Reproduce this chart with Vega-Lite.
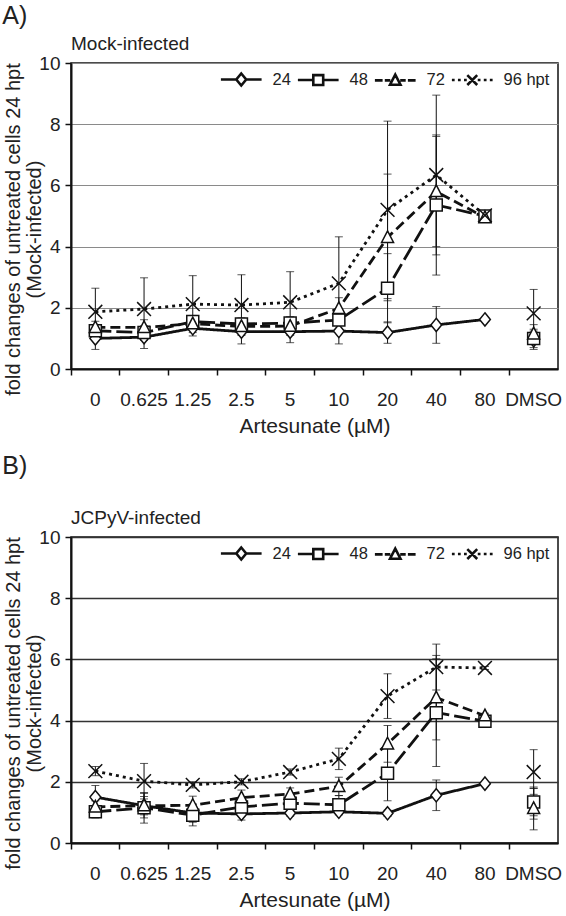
{
  "$schema": "https://vega.github.io/schema/vega-lite/v6.json",
  "padding": {"left": 2, "top": 4, "right": 0, "bottom": 0},
  "config": {
    "font": "Liberation Sans",
    "view": {"stroke": "#111", "strokeWidth": 1.5},
    "axis": {"labelColor": "#222", "titleColor": "#222", "domainColor": "#111", "tickColor": "#111", "titleFontWeight": "normal"},
    "title": {"color": "#222", "fontWeight": "normal"}
  },
  "datasets": {
    "mock": [
      {"dose": "0", "series": "24", "y": 1.00, "lo": 0.64, "hi": 1.36},
      {"dose": "0", "series": "48", "y": 1.25, "lo": 1.05, "hi": 1.45},
      {"dose": "0", "series": "72", "y": 1.36, "lo": 1.16, "hi": 1.56},
      {"dose": "0", "series": "96", "y": 1.87, "lo": 1.10, "hi": 2.64},
      {"dose": "0.625", "series": "24", "y": 1.04, "lo": 0.67, "hi": 1.41},
      {"dose": "0.625", "series": "48", "y": 1.19, "lo": 0.99, "hi": 1.39},
      {"dose": "0.625", "series": "72", "y": 1.36, "lo": 1.11, "hi": 1.61},
      {"dose": "0.625", "series": "96", "y": 1.96, "lo": 0.94, "hi": 2.98},
      {"dose": "1.25", "series": "24", "y": 1.33, "lo": 1.08, "hi": 1.58},
      {"dose": "1.25", "series": "48", "y": 1.55, "lo": 1.35, "hi": 1.75},
      {"dose": "1.25", "series": "72", "y": 1.48, "lo": 1.28, "hi": 1.68},
      {"dose": "1.25", "series": "96", "y": 2.12, "lo": 1.19, "hi": 3.05},
      {"dose": "2.5", "series": "24", "y": 1.22, "lo": 0.82, "hi": 1.62},
      {"dose": "2.5", "series": "48", "y": 1.47, "lo": 1.27, "hi": 1.67},
      {"dose": "2.5", "series": "72", "y": 1.39, "lo": 1.19, "hi": 1.59},
      {"dose": "2.5", "series": "96", "y": 2.09, "lo": 1.10, "hi": 3.08},
      {"dose": "5", "series": "24", "y": 1.22, "lo": 0.86, "hi": 1.58},
      {"dose": "5", "series": "48", "y": 1.50, "lo": 1.30, "hi": 1.70},
      {"dose": "5", "series": "72", "y": 1.40, "lo": 1.10, "hi": 1.70},
      {"dose": "5", "series": "96", "y": 2.18, "lo": 1.18, "hi": 3.18},
      {"dose": "10", "series": "24", "y": 1.24, "lo": 0.82, "hi": 1.66},
      {"dose": "10", "series": "48", "y": 1.60, "lo": 1.30, "hi": 1.90},
      {"dose": "10", "series": "72", "y": 1.98, "lo": 1.63, "hi": 2.33},
      {"dose": "10", "series": "96", "y": 2.80, "lo": 1.28, "hi": 4.32},
      {"dose": "20", "series": "24", "y": 1.19, "lo": 0.84, "hi": 1.54},
      {"dose": "20", "series": "48", "y": 2.64, "lo": 1.51, "hi": 3.77},
      {"dose": "20", "series": "72", "y": 4.30, "lo": 2.23, "hi": 6.37},
      {"dose": "20", "series": "96", "y": 5.20, "lo": 2.30, "hi": 8.10},
      {"dose": "40", "series": "24", "y": 1.44, "lo": 0.84, "hi": 2.04},
      {"dose": "40", "series": "48", "y": 5.36, "lo": 3.07, "hi": 7.65},
      {"dose": "40", "series": "72", "y": 5.80, "lo": 4.00, "hi": 7.60},
      {"dose": "40", "series": "96", "y": 6.34, "lo": 3.73, "hi": 8.95},
      {"dose": "80", "series": "24", "y": 1.62, "lo": 1.57, "hi": 1.67},
      {"dose": "80", "series": "48", "y": 5.00, "lo": 4.88, "hi": 5.12},
      {"dose": "80", "series": "72", "y": 4.95, "lo": 4.85, "hi": 5.05},
      {"dose": "80", "series": "96", "y": 5.02, "lo": 4.92, "hi": 5.12},
      {"dose": "DMSO", "series": "24", "y": 0.94, "lo": 0.64, "hi": 1.24},
      {"dose": "DMSO", "series": "48", "y": 1.00, "lo": 0.70, "hi": 1.30},
      {"dose": "DMSO", "series": "72", "y": 1.15, "lo": 0.85, "hi": 1.45},
      {"dose": "DMSO", "series": "96", "y": 1.82, "lo": 1.04, "hi": 2.60}
    ],
    "jcpyv": [
      {"dose": "0", "series": "24", "y": 1.50, "lo": 1.12, "hi": 1.88},
      {"dose": "0", "series": "48", "y": 1.02, "lo": 0.82, "hi": 1.22},
      {"dose": "0", "series": "72", "y": 1.18, "lo": 0.98, "hi": 1.38},
      {"dose": "0", "series": "96", "y": 2.35, "lo": 2.20, "hi": 2.50},
      {"dose": "0.625", "series": "24", "y": 1.22, "lo": 0.82, "hi": 1.62},
      {"dose": "0.625", "series": "48", "y": 1.15, "lo": 0.65, "hi": 1.65},
      {"dose": "0.625", "series": "72", "y": 1.22, "lo": 0.92, "hi": 1.52},
      {"dose": "0.625", "series": "96", "y": 2.02, "lo": 1.44, "hi": 2.60},
      {"dose": "1.25", "series": "24", "y": 0.98, "lo": 0.68, "hi": 1.28},
      {"dose": "1.25", "series": "48", "y": 0.91, "lo": 0.56, "hi": 1.26},
      {"dose": "1.25", "series": "72", "y": 1.23, "lo": 0.93, "hi": 1.53},
      {"dose": "1.25", "series": "96", "y": 1.90, "lo": 1.80, "hi": 2.00},
      {"dose": "2.5", "series": "24", "y": 0.95, "lo": 0.75, "hi": 1.15},
      {"dose": "2.5", "series": "48", "y": 1.18, "lo": 0.88, "hi": 1.48},
      {"dose": "2.5", "series": "72", "y": 1.48, "lo": 1.23, "hi": 1.73},
      {"dose": "2.5", "series": "96", "y": 2.00, "lo": 1.90, "hi": 2.10},
      {"dose": "5", "series": "24", "y": 0.98, "lo": 0.88, "hi": 1.08},
      {"dose": "5", "series": "48", "y": 1.30, "lo": 1.10, "hi": 1.50},
      {"dose": "5", "series": "72", "y": 1.60, "lo": 1.40, "hi": 1.80},
      {"dose": "5", "series": "96", "y": 2.32, "lo": 2.22, "hi": 2.42},
      {"dose": "10", "series": "24", "y": 1.02, "lo": 0.92, "hi": 1.12},
      {"dose": "10", "series": "48", "y": 1.25, "lo": 0.95, "hi": 1.55},
      {"dose": "10", "series": "72", "y": 1.85, "lo": 1.55, "hi": 2.15},
      {"dose": "10", "series": "96", "y": 2.75, "lo": 2.40, "hi": 3.10},
      {"dose": "20", "series": "24", "y": 0.97, "lo": 0.87, "hi": 1.07},
      {"dose": "20", "series": "48", "y": 2.28, "lo": 1.38, "hi": 3.18},
      {"dose": "20", "series": "72", "y": 3.24, "lo": 2.64, "hi": 3.84},
      {"dose": "20", "series": "96", "y": 4.80, "lo": 4.07, "hi": 5.53},
      {"dose": "40", "series": "24", "y": 1.56, "lo": 1.06, "hi": 2.06},
      {"dose": "40", "series": "48", "y": 4.26, "lo": 2.50, "hi": 6.02},
      {"dose": "40", "series": "72", "y": 4.75, "lo": 3.37, "hi": 6.13},
      {"dose": "40", "series": "96", "y": 5.75, "lo": 5.00, "hi": 6.50},
      {"dose": "80", "series": "24", "y": 1.94, "lo": 1.89, "hi": 1.99},
      {"dose": "80", "series": "48", "y": 3.98, "lo": 3.88, "hi": 4.08},
      {"dose": "80", "series": "72", "y": 4.16, "lo": 4.08, "hi": 4.24},
      {"dose": "80", "series": "96", "y": 5.72, "lo": 5.67, "hi": 5.77},
      {"dose": "DMSO", "series": "24", "y": 1.28, "lo": 0.78, "hi": 1.78},
      {"dose": "DMSO", "series": "48", "y": 1.34, "lo": 0.89, "hi": 1.79},
      {"dose": "DMSO", "series": "72", "y": 1.13, "lo": 0.43, "hi": 1.83},
      {"dose": "DMSO", "series": "96", "y": 2.32, "lo": 1.59, "hi": 3.05}
    ]
  },
  "spacing": 17,
  "vconcat": [
    {
      "title": {"text": "A)", "anchor": "start", "frame": "bounds", "fontSize": 25, "offset": 5},
      "vconcat": [
        {
          "width": 487, "height": 306,
          "title": {"text": "Mock-infected", "anchor": "start", "frame": "group", "fontSize": 19, "offset": 0},
          "data": {"name": "mock"},
          "resolve": {"axis": {"x": "independent"}, "scale": {"shape": "independent"}},
          "layer": [
            {
              "mark": {"type": "rule", "color": "#111", "strokeWidth": 1},
              "encoding": {
                "x": {"field": "dose", "type": "ordinal", "scale": {"type": "band", "domain": ["0","0.625","1.25","2.5","5","10","20","40","80","DMSO"], "paddingInner": 0, "paddingOuter": 0},
                  "axis": {"orient": "bottom", "title": "Artesunate (µM)", "domain": false, "ticks": false, "tickSize": 0, "grid": false, "labelAngle": 0, "labelFontSize": 19, "labelPadding": 21, "titleFontSize": 21, "titlePadding": 6}},
                "y": {"field": "lo", "type": "quantitative", "scale": {"domain": [0, 10], "nice": false},
                  "axis": {"title": ["fold changes of untreated cells 24 hpt", "(Mock-infected)"], "values": [0, 2, 4, 6, 8, 10], "grid": true, "gridColor": "#8a8a8a", "gridWidth": 1.2, "domainWidth": 2, "tickSize": 6, "tickWidth": 1.5, "labelFontSize": 19, "labelPadding": 5, "titleFontSize": 20, "titleLineHeight": 21, "titleX": -48, "titleY": 166}},
                "y2": {"field": "hi"}
              }
            },
            {
              "mark": {"type": "tick", "color": "#111", "size": 8, "thickness": 1},
              "encoding": {
                "x": {"field": "dose", "type": "ordinal", "scale": {"domain": ["0","0.625","1.25","2.5","5","10","20","40","80","DMSO"]}, "axis": null},
                "y": {"field": "lo", "type": "quantitative"}
              }
            },
            {
              "mark": {"type": "tick", "color": "#111", "size": 8, "thickness": 1},
              "encoding": {
                "x": {"field": "dose", "type": "ordinal", "scale": {"domain": ["0","0.625","1.25","2.5","5","10","20","40","80","DMSO"]}, "axis": null},
                "y": {"field": "hi", "type": "quantitative"}
              }
            },
            {
              "transform": [{"filter": "datum.dose != 'DMSO'"}],
              "mark": {"type": "line", "color": "#111", "strokeWidth": 2.8, "strokeCap": "butt"},
              "encoding": {
                "x": {"field": "dose", "type": "ordinal", "sort": ["0","0.625","1.25","2.5","5","10","20","40","80","DMSO"], "scale": {"domain": ["0","0.625","1.25","2.5","5","10","20","40","80","DMSO"]},
                  "axis": {"orient": "bottom", "title": null, "labels": false, "ticks": true, "tickSize": 6, "tickWidth": 1.5, "domain": true, "domainWidth": 2, "grid": false, "bandPosition": 0}},
                "y": {"field": "y", "type": "quantitative"},
                "strokeDash": {"field": "series", "type": "nominal", "scale": {"domain": ["24","48","72","96"], "range": [[1, 0], [16, 5], [10, 5], [3, 4]]}, "legend": null},
                "detail": {"field": "series"}
              }
            },
            {
              "mark": {"type": "point", "filled": true, "fill": "white", "stroke": "#111", "strokeWidth": 1.5, "size": 144, "opacity": 1},
              "encoding": {
                "x": {"field": "dose", "type": "ordinal", "scale": {"domain": ["0","0.625","1.25","2.5","5","10","20","40","80","DMSO"]}, "axis": null},
                "y": {"field": "y", "type": "quantitative"},
                "shape": {"field": "series", "type": "nominal", "scale": {"domain": ["24","48","72","96"], "range": ["M0,-1.1L0.9,0L0,1.1L-0.9,0Z", "M-1,-1H1V1H-1Z", "M0,-1.1L1,0.85H-1Z", "M-1.15,-1.15L1.15,1.15M-1.15,1.15L1.15,-1.15"]}, "legend": null}
              }
            },
            {
              "transform": [{"filter": "datum.y < -100"}],
              "mark": {"type": "point", "filled": false, "color": "#111", "strokeWidth": 2.6, "size": 121, "opacity": 1},
              "encoding": {
                "x": {"field": "dose", "type": "ordinal", "scale": {"domain": ["0","0.625","1.25","2.5","5","10","20","40","80","DMSO"]}, "axis": null},
                "y": {"field": "y", "type": "quantitative"},
                "shape": {"field": "series", "type": "nominal",
                  "scale": {"domain": ["24","48","72","96"], "range": [
                    "M-3.7,0L-0.95,0M0.95,0L3.7,0M0,-1.1L0.9,0L0,1.1L-0.9,0Z",
                    "M-3.7,0L-0.9,0M0.9,0L3.7,0M-0.9,-0.9H0.9V0.9H-0.9Z",
                    "M-3.7,0L-2.3,0M-1.9,0L-0.9,0M0.9,0L1.9,0M2.3,0L3.7,0M0,-1.05L0.95,0.8H-0.95Z",
                    "M-3.7,0L-3.2,0M-2.6,0L-2.1,0M-1.5,0L-1,0M1,0L1.5,0M2.1,0L2.6,0M3.2,0L3.7,0M-0.9,-0.9L0.9,0.9M-0.9,0.9L0.9,-0.9"]},
                  "legend": {"title": null, "orient": "top-right", "direction": "horizontal", "offset": 8, "padding": 0, "symbolSize": 121, "symbolStrokeColor": "#111", "symbolStrokeWidth": 2.6, "symbolOpacity": 1, "labelFontSize": 16.5, "labelColor": "#222", "labelOffset": 23, "columnPadding": 1, "labelExpr": "datum.label == '96' ? '96 hpt' : datum.label"}}
              }
            }
          ]
        }
      ]
    },
    {
      "title": {"text": "B)", "anchor": "start", "frame": "bounds", "fontSize": 25, "offset": 29},
      "vconcat": [
        {
          "width": 487, "height": 306,
          "title": {"text": "JCPyV-infected", "anchor": "start", "frame": "group", "fontSize": 19, "offset": 0},
          "data": {"name": "jcpyv"},
          "resolve": {"axis": {"x": "independent"}, "scale": {"shape": "independent"}},
          "layer": [
            {
              "mark": {"type": "rule", "color": "#111", "strokeWidth": 1},
              "encoding": {
                "x": {"field": "dose", "type": "ordinal", "scale": {"type": "band", "domain": ["0","0.625","1.25","2.5","5","10","20","40","80","DMSO"], "paddingInner": 0, "paddingOuter": 0},
                  "axis": {"orient": "bottom", "title": "Artesunate (µM)", "domain": false, "ticks": false, "tickSize": 0, "grid": false, "labelAngle": 0, "labelFontSize": 19, "labelPadding": 21, "titleFontSize": 21, "titlePadding": 6}},
                "y": {"field": "lo", "type": "quantitative", "scale": {"domain": [0, 10], "nice": false},
                  "axis": {"title": ["fold changes of untreated cells 24 hpt", "(Mock-infected)"], "values": [0, 2, 4, 6, 8, 10], "grid": true, "gridColor": "#333", "gridWidth": 1.5, "domainWidth": 2, "tickSize": 6, "tickWidth": 1.5, "labelFontSize": 19, "labelPadding": 5, "titleFontSize": 20, "titleLineHeight": 21, "titleX": -48, "titleY": 166}},
                "y2": {"field": "hi"}
              }
            },
            {
              "mark": {"type": "tick", "color": "#111", "size": 8, "thickness": 1},
              "encoding": {
                "x": {"field": "dose", "type": "ordinal", "scale": {"domain": ["0","0.625","1.25","2.5","5","10","20","40","80","DMSO"]}, "axis": null},
                "y": {"field": "lo", "type": "quantitative"}
              }
            },
            {
              "mark": {"type": "tick", "color": "#111", "size": 8, "thickness": 1},
              "encoding": {
                "x": {"field": "dose", "type": "ordinal", "scale": {"domain": ["0","0.625","1.25","2.5","5","10","20","40","80","DMSO"]}, "axis": null},
                "y": {"field": "hi", "type": "quantitative"}
              }
            },
            {
              "transform": [{"filter": "datum.dose != 'DMSO'"}],
              "mark": {"type": "line", "color": "#111", "strokeWidth": 2.8, "strokeCap": "butt"},
              "encoding": {
                "x": {"field": "dose", "type": "ordinal", "sort": ["0","0.625","1.25","2.5","5","10","20","40","80","DMSO"], "scale": {"domain": ["0","0.625","1.25","2.5","5","10","20","40","80","DMSO"]},
                  "axis": {"orient": "bottom", "title": null, "labels": false, "ticks": true, "tickSize": 6, "tickWidth": 1.5, "domain": true, "domainWidth": 2, "grid": false, "bandPosition": 0}},
                "y": {"field": "y", "type": "quantitative"},
                "strokeDash": {"field": "series", "type": "nominal", "scale": {"domain": ["24","48","72","96"], "range": [[1, 0], [16, 5], [10, 5], [3, 4]]}, "legend": null},
                "detail": {"field": "series"}
              }
            },
            {
              "mark": {"type": "point", "filled": true, "fill": "white", "stroke": "#111", "strokeWidth": 1.5, "size": 144, "opacity": 1},
              "encoding": {
                "x": {"field": "dose", "type": "ordinal", "scale": {"domain": ["0","0.625","1.25","2.5","5","10","20","40","80","DMSO"]}, "axis": null},
                "y": {"field": "y", "type": "quantitative"},
                "shape": {"field": "series", "type": "nominal", "scale": {"domain": ["24","48","72","96"], "range": ["M0,-1.1L0.9,0L0,1.1L-0.9,0Z", "M-1,-1H1V1H-1Z", "M0,-1.1L1,0.85H-1Z", "M-1.15,-1.15L1.15,1.15M-1.15,1.15L1.15,-1.15"]}, "legend": null}
              }
            },
            {
              "transform": [{"filter": "datum.y < -100"}],
              "mark": {"type": "point", "filled": false, "color": "#111", "strokeWidth": 2.6, "size": 121, "opacity": 1},
              "encoding": {
                "x": {"field": "dose", "type": "ordinal", "scale": {"domain": ["0","0.625","1.25","2.5","5","10","20","40","80","DMSO"]}, "axis": null},
                "y": {"field": "y", "type": "quantitative"},
                "shape": {"field": "series", "type": "nominal",
                  "scale": {"domain": ["24","48","72","96"], "range": [
                    "M-3.7,0L-0.95,0M0.95,0L3.7,0M0,-1.1L0.9,0L0,1.1L-0.9,0Z",
                    "M-3.7,0L-0.9,0M0.9,0L3.7,0M-0.9,-0.9H0.9V0.9H-0.9Z",
                    "M-3.7,0L-2.3,0M-1.9,0L-0.9,0M0.9,0L1.9,0M2.3,0L3.7,0M0,-1.05L0.95,0.8H-0.95Z",
                    "M-3.7,0L-3.2,0M-2.6,0L-2.1,0M-1.5,0L-1,0M1,0L1.5,0M2.1,0L2.6,0M3.2,0L3.7,0M-0.9,-0.9L0.9,0.9M-0.9,0.9L0.9,-0.9"]},
                  "legend": {"title": null, "orient": "top-right", "direction": "horizontal", "offset": 8, "padding": 0, "symbolSize": 121, "symbolStrokeColor": "#111", "symbolStrokeWidth": 2.6, "symbolOpacity": 1, "labelFontSize": 16.5, "labelColor": "#222", "labelOffset": 23, "columnPadding": 1, "labelExpr": "datum.label == '96' ? '96 hpt' : datum.label"}}
              }
            }
          ]
        }
      ]
    }
  ]
}
